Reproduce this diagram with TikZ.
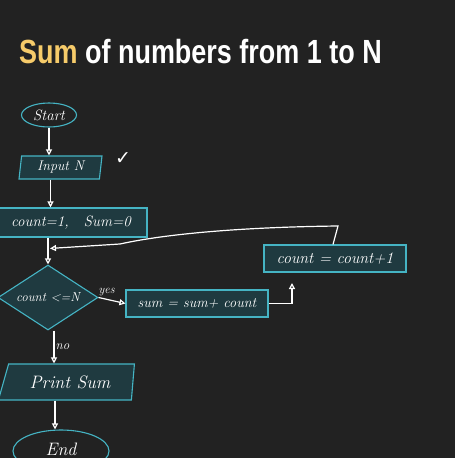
\documentclass[tikz,border=0pt]{standalone}
\usepackage{fontspec}
\newfontfamily\titlefont{Liberation Sans}
\newfontfamily\symfont{DejaVu Sans}
\usetikzlibrary{shapes.geometric,arrows.meta,calc}
\definecolor{bg}{HTML}{222222}
\definecolor{boxfill}{HTML}{1F3A40}
\definecolor{boxline}{HTML}{45B4C4}
\definecolor{sumyellow}{HTML}{F6CB6A}
\newcommand{\fs}[1]{\fontsize{#1}{#1}\selectfont}
\begin{document}
\begin{tikzpicture}[x=1pt,y=-1pt,
  hand/.style={text=white,font=\itshape},
  fbox/.style={draw=boxline,fill=boxfill,line width=1.1pt,hand,inner sep=0pt},
  term/.style={fbox,ellipse,fill=none},
  iobox/.style={fbox,trapezium,trapezium stretches body},
  procbox/.style={fbox,rectangle},
  decbox/.style={fbox,diamond,inner sep=0pt},
  conn/.style={draw=white,line width=1.2pt},
  arr/.style={conn,-{Triangle[open,length=6pt,width=6pt]}},
  lbl/.style={text=white,font=\itshape\fs{12},inner sep=1pt}]
\fill[bg] (0,0) rectangle (455,458);
\useasboundingbox (0,0) rectangle (455,458);
% title
\node[anchor=base west,inner sep=0pt,font=\titlefont\bfseries\fs{33.5}] (title) at (19,63)
  {\scalebox{0.805}[1]{\textcolor{sumyellow}{Sum} \textcolor{white}{of numbers from 1 to N}}};
% nodes
\node[term,minimum width=55pt,minimum height=24pt,font=\itshape\fs{15}] (start) at (49,115) {Start};
\node[iobox,trapezium left angle=78,trapezium right angle=102,minimum width=83pt,minimum height=23pt,font=\itshape\fs{14}] (input) at (60.5,167.5) {Input N};
\node[procbox,minimum width=152pt,minimum height=29pt,font=\itshape\fs{15}] (init) at (71,222.5) {count=1,\quad Sum=0};
\node[decbox,minimum width=100pt,minimum height=65pt,aspect=1.54,font=\itshape\fs{13}] (dec) at (48,297.5) {count <=N};
\node[procbox,minimum width=142pt,minimum height=27pt,font=\itshape\fs{14.3}] (sum) at (197,303.5) {sum = sum+ count};
\node[procbox,minimum width=142pt,minimum height=27pt,font=\itshape\fs{16}] (cnt) at (335,258.5) {count = count+1};
\node[iobox,trapezium left angle=52,trapezium right angle=103,minimum width=136pt,minimum height=36pt,font=\itshape\fs{18}] (print) at (70,382) {Print Sum};
\node[term,minimum width=96pt,minimum height=42pt,font=\itshape\fs{18}] (end) at (61,451) {\raisebox{4pt}{End}};
\node[text=white,font=\symfont\fs{19},inner sep=0pt] (tick) at (123,159) {✓};
% connectors
\draw[arr] (start.south) -- (start.south |- input.north);
\draw[arr] ([xshift=-10pt]input.south) -- ([xshift=-10pt]input.south |- init.north);
\draw[arr] (dec.north |- init.south) -- (dec.north);
\coordinate (loopend) at ($(dec.north)+(2,-16)$);
\draw[arr] ([xshift=-2pt]cnt.north) -- (338,226) .. controls (250,227) and (170,233) .. (120,244) -- (loopend);
\draw[arr] (dec.east) -- node[lbl,above,pos=0.3,yshift=2pt] (yes) {yes} (sum.west);
\coordinate (uptip) at (292,283);
\draw[arr] (sum.east) -| (uptip);
\draw[arr] ([xshift=6pt]dec.south) -- node[lbl,right,font=\itshape\fs{13}] (no) {no} ([xshift=6pt]dec.south |- print.north);
\draw[arr] ([xshift=-15pt]print.south) -- ([xshift=-15pt]print.south |- end.north);
\end{tikzpicture}
\end{document}
